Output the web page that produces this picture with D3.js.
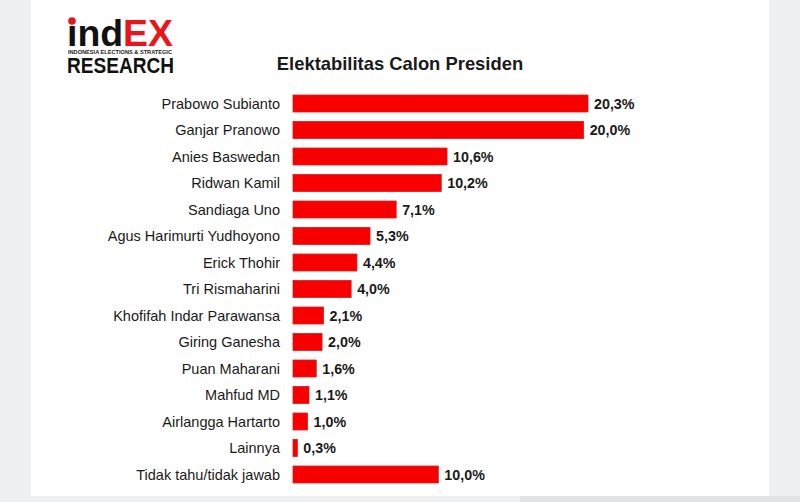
<!DOCTYPE html>
<html>
<head>
<meta charset="utf-8">
<script src="https://cdn.jsdelivr.net/npm/d3@7"></script>
<style>
  html, body { margin: 0; padding: 0; background: #eff0f2; }
  svg { display: block; }
</style>
</head>
<body>
<div id="chart"></div>
<script>
/* Elektabilitas Calon Presiden — indEX Research */
var candidates = [
  'Prabowo Subianto', 'Ganjar Pranowo', 'Anies Baswedan', 'Ridwan Kamil',
  'Sandiaga Uno', 'Agus Harimurti Yudhoyono', 'Erick Thohir', 'Tri Rismaharini',
  'Khofifah Indar Parawansa', 'Giring Ganesha', 'Puan Maharani', 'Mahfud MD',
  'Airlangga Hartarto', 'Lainnya', 'Tidak tahu/tidak jawab'
];
var values = [20.3, 20.0, 10.6, 10.2, 7.1, 5.3, 4.4, 4.0, 2.1, 2.0, 1.6, 1.1, 1.0, 0.3, 10.0];
var valueLabels = ['20,3%', '20,0%', '10,6%', '10,2%', '7,1%', '5,3%', '4,4%', '4,0%',
  '2,1%', '2,0%', '1,6%', '1,1%', '1,0%', '0,3%', '10,0%'];

(function drawChart() {
  var W = 800, H = 502;
  var FONT = "'Liberation Sans', Arial, sans-serif";
  var svg = d3.select('#chart').append('svg')
    .attr('width', W).attr('height', H);

  /* ── page background: white sheet on grey ── */
  svg.append('rect').attr('x', 0).attr('y', 0).attr('width', W).attr('height', H)
    .attr('fill', '#eff0f2');
  svg.append('rect').attr('x', 31).attr('y', 0).attr('width', 738).attr('height', 496)
    .attr('fill', '#ffffff');
  svg.append('rect').attr('x', 520).attr('y', 496).attr('width', 280).attr('height', 6)
    .attr('fill', '#e2e3e5');

  /* ── logo ── */
  var logo = svg.append('text')
    .attr('x', 67).attr('y', 46)
    .attr('font-family', FONT)
    .attr('font-weight', 'bold').attr('font-size', 36)
    .attr('textLength', 106).attr('lengthAdjust', 'spacingAndGlyphs');
  logo.append('tspan').attr('fill', '#111').text('\u0131nd');
  logo.append('tspan').attr('fill', '#e8161b').text('EX');
  svg.append('circle').attr('cx', 72).attr('cy', 21).attr('r', 3.8).attr('fill', '#e8161b');
  svg.append('text')
    .attr('x', 68).attr('y', 53.5)
    .attr('font-family', FONT)
    .attr('font-weight', 'bold').attr('font-size', 6).attr('fill', '#222')
    .attr('textLength', 104).attr('lengthAdjust', 'spacingAndGlyphs')
    .text('INDONESIA ELECTIONS & STRATEGIC');
  svg.append('text')
    .attr('x', 67).attr('y', 72.5)
    .attr('font-family', FONT)
    .attr('font-weight', 'bold').attr('font-size', 22.5).attr('fill', '#111')
    .attr('textLength', 107).attr('lengthAdjust', 'spacingAndGlyphs')
    .text('RESEARCH');

  /* ── title ── */
  svg.append('text')
    .attr('x', 400).attr('y', 70)
    .attr('text-anchor', 'middle')
    .attr('font-family', FONT)
    .attr('font-weight', 'bold').attr('font-size', 18.4).attr('fill', '#1a1a1a')
    .text('Elektabilitas Calon Presiden');

  /* ── scales ── */
  var x = d3.scaleLinear().domain([0, 20.3]).range([293, 588]);
  var y = d3.scaleBand().domain(candidates)
    .range([90.25, 487.75]).paddingInner(0.36).paddingOuter(0.18);

  var rows = candidates.map(function (c, i) {
    return { name: c, value: values[i], label: valueLabels[i] };
  });

  var g = svg.append('g');

  g.selectAll('rect.bar').data(rows).enter().append('rect')
    .attr('class', 'bar')
    .attr('x', x(0))
    .attr('y', function (d) { return y(d.name); })
    .attr('width', function (d) { return x(d.value) - x(0); })
    .attr('height', y.bandwidth())
    .attr('fill', '#f80000')
    .attr('stroke', '#d81a1a').attr('stroke-width', 0.8);

  /* category labels */
  g.selectAll('text.cat').data(rows).enter().append('text')
    .attr('class', 'cat')
    .attr('x', 280)
    .attr('y', function (d) { return y(d.name) + y.bandwidth() / 2; })
    .attr('dy', '0.36em')
    .attr('text-anchor', 'end')
    .attr('font-family', FONT)
    .attr('font-size', 14.5).attr('fill', '#1a1a1a')
    .text(function (d) { return d.name; });

  /* value labels */
  g.selectAll('text.val').data(rows).enter().append('text')
    .attr('class', 'val')
    .attr('x', function (d) { return x(d.value) + 6; })
    .attr('y', function (d) { return y(d.name) + y.bandwidth() / 2; })
    .attr('dy', '0.36em')
    .attr('font-family', FONT)
    .attr('font-weight', 'bold')
    .attr('font-size', 14.3).attr('fill', '#1a1a1a')
    .text(function (d) { return d.label; });
}());
</script>
</body>
</html>
